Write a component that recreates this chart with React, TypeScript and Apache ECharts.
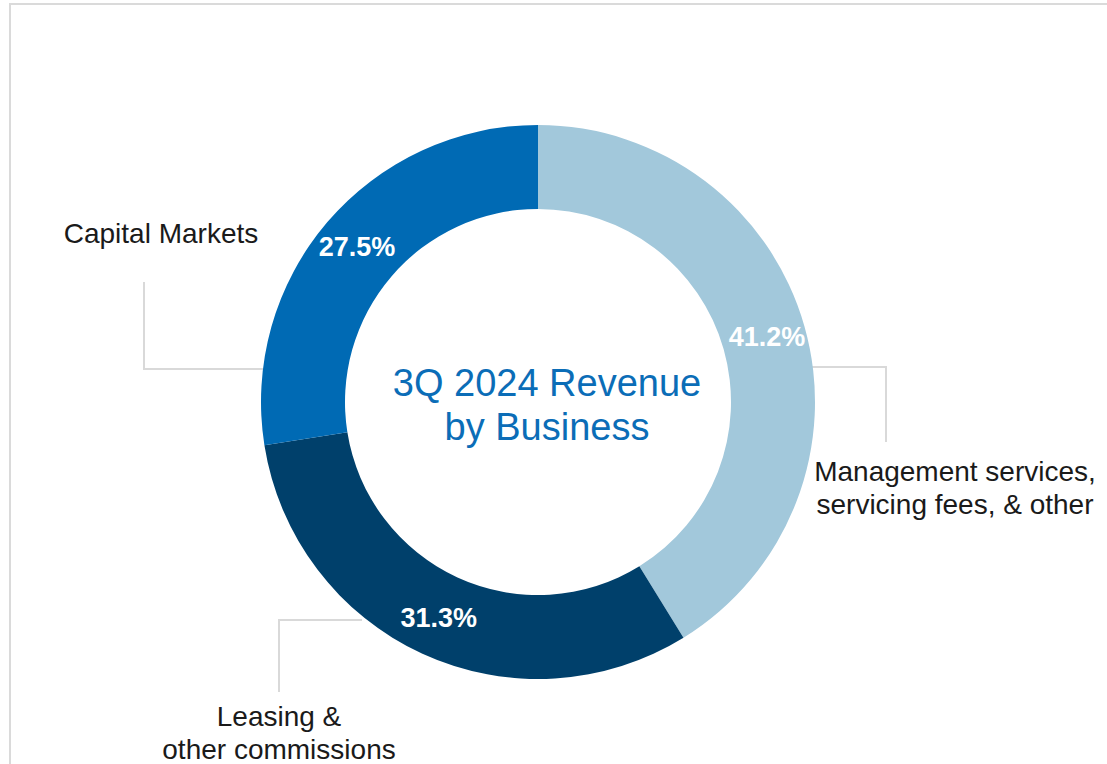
import React, { useEffect, useRef } from "react";
import * as echarts from "echarts";

const categories = [
  "Management services,\nservicing fees, & other",
  "Leasing &\nother commissions",
  "Capital Markets",
];
const shares = [41.2, 31.3, 27.5];
const colors = ["#a2c8db", "#00406b", "#006ab4"];
const title = "3Q 2024 Revenue\nby Business";

// label layout (positions only)
const labelPos = [
  { x: 955, y: 488, pts: [[812, 367], [886, 367], [886, 442]] },
  { x: 279, y: 733, pts: [[362, 620], [279, 620], [279, 692]] },
  { x: 161, y: 233, pts: [[263, 369], [144, 369], [144, 282]] },
];

const FONT = "Arial, 'Liberation Sans', sans-serif";

export default function App() {
  const ref = useRef<HTMLDivElement>(null);
  useEffect(() => {
    if (!ref.current) return;
    const chart = echarts.init(ref.current, undefined, { renderer: "svg" });
    const data = categories.map((name, i) => ({
      name,
      value: shares[i],
      itemStyle: { color: colors[i] },
    }));
    chart.setOption({
      animation: false,
      backgroundColor: "#ffffff",
      graphic: [
        {
          type: "polyline",
          shape: { points: [[10, 764], [10, 4], [1107, 4]] },
          style: { stroke: "#dadada", lineWidth: 2, fill: "none" },
          silent: true,
        },
        {
          type: "text",
          x: 547,
          y: 405,
          style: {
            text: title,
            fill: "#0b6db7",
            fontSize: 38,
            fontFamily: FONT,
            lineHeight: 44,
            align: "center",
            verticalAlign: "middle",
          },
        },
      ],
      series: [
        {
          type: "pie",
          center: [538, 402],
          radius: [193, 277],
          startAngle: 90,
          clockwise: true,
          silent: true,
          data,
          label: {
            show: true,
            position: "inside",
            formatter: "{c}%",
            color: "#ffffff",
            fontWeight: "bold",
            fontSize: 27,
            fontFamily: FONT,
          },
          labelLine: { show: false },
          itemStyle: { borderWidth: 0 },
        },
        {
          type: "pie",
          center: [538, 402],
          radius: [193, 277],
          startAngle: 90,
          clockwise: true,
          silent: true,
          data: categories.map((name, i) => ({
            name,
            value: shares[i],
            itemStyle: { color: "rgba(0,0,0,0)" },
          })),
          label: {
            show: true,
            position: "outside",
            formatter: "{b}",
            color: "#1a1a1a",
            fontSize: 28,
            lineHeight: 33,
            fontFamily: FONT,
            align: "center",
            overflow: "none",
            width: 400,
          },
          labelLine: {
            show: true,
            lineStyle: { color: "#d9d9d9", width: 2 },
          },
          labelLayout: (params: any) => {
            const p = labelPos[params.dataIndex];
            return {
              x: p.x,
              y: p.y,
              align: "center",
              verticalAlign: "middle",
              labelLinePoints: p.pts,
            };
          },
        },
      ],
    });
    return () => chart.dispose();
  }, []);
  return (
    <div
      ref={ref}
      style={{ position: "fixed", left: 0, top: 0, width: 1107, height: 764 }}
    />
  );
}
